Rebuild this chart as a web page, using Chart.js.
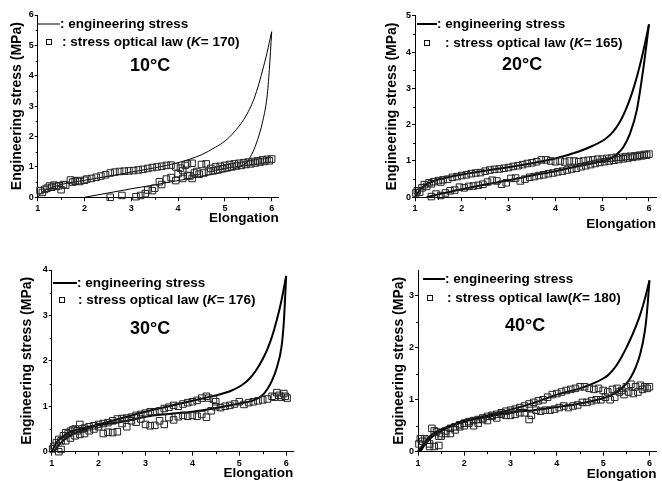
<!DOCTYPE html>
<html>
<head>
<meta charset="utf-8">
<script src="https://cdn.jsdelivr.net/npm/chart.js@4.4.1/dist/chart.umd.min.js"></script>
<style>
  body { margin: 0; background: #fff; width: 662px; height: 481px; position: relative; overflow: hidden; }
  canvas { position: absolute; }
</style>
</head>
<body>
<canvas id="p10"></canvas>
<canvas id="p20"></canvas>
<canvas id="p30"></canvas>
<canvas id="p40"></canvas>
<script>
// ---- data (elongation, engineering stress in MPa) ----
const temps = ['10°C', '20°C', '30°C', '40°C']
const kValues = ['170', '165', '176', '180']
const yMaxes = [6, 5, 4, 3.5]
const xTicks = [1, 2, 3, 4, 5, 6]

// 10°C
const load10 = [[1,0],[1.1,0.18],[1.3,0.32],[1.5,0.42],[2,0.56],[2.5,0.69],[3,0.83],[3.5,0.97],[4,1.14],[4.5,1.4],[4.8,1.65],[5,1.85],[5.2,2.15],[5.4,2.55],[5.5,2.82],[5.6,3.15],[5.7,3.6],[5.8,4.15],[5.9,4.75],[5.95,5.1],[6,5.45]]
const unload10 = [[2,0],[2.5,0.14],[3,0.28],[3.5,0.41],[4,0.55],[4.5,0.69],[5,0.85],[5.2,0.93],[5.4,1.07],[5.5,1.22],[5.6,1.5],[5.7,1.9],[5.8,2.45],[5.9,3.3],[5.95,4.2],[6,5.45]]
const optical10 = [[1.05,0.22],[1.1,0.16],[1.15,0.26],[1.2,0.3],[1.25,0.37],[1.3,0.33],[1.35,0.4],[1.4,0.36],[1.45,0.38],[1.5,0.25],[1.55,0.42],[1.6,0.4],[1.7,0.57],[1.75,0.5],[1.8,0.53],[1.85,0.55],[1.9,0.52],[2.0,0.56],[2.05,0.6],[2.15,0.62],[2.25,0.66],[2.35,0.7],[2.45,0.74],[2.55,0.8],[2.65,0.83],[2.75,0.85],[2.85,0.86],[2.95,0.87],[3.05,0.88],[3.15,0.9],[3.25,0.92],[3.35,0.95],[3.45,0.98],[3.55,1.0],[3.65,1.02],[3.75,1.05],[3.85,1.06],[3.95,1.0],[4.05,0.96],
  [4.1,0.88],[4.15,1.05],[4.2,1.1],[4.3,1.12],[4.35,0.8],[4.4,0.85],[4.5,1.08],[4.6,1.1],[4.7,0.95],[4.8,1.0],[4.9,1.02],[5.0,1.05],[5.1,1.08],[5.2,1.1],[5.3,1.12],[5.4,1.14],[5.5,1.16],[5.6,1.18],[5.7,1.2],[5.8,1.23],[5.9,1.25],[6.0,1.26],
  [5.95,1.2],[5.85,1.18],[5.75,1.16],[5.65,1.13],[5.55,1.1],[5.45,1.08],[5.35,1.05],[5.25,1.03],[5.15,1.0],[5.05,0.97],[4.95,0.94],[4.85,0.9],[4.75,0.87],[4.65,0.85],[4.55,0.8],[4.45,0.76],[4.3,0.62],[4.25,0.7],[4.2,0.72],[4.1,0.62],[4.0,0.78],[3.95,0.55],[3.85,0.65],[3.75,0.6],[3.65,0.42],[3.6,0.51],[3.5,0.3],[3.45,0.22],[3.35,0.24],[3.3,0.12],[3.2,0.06],[3.1,0.02],[2.8,0.06],[2.55,0.0]]

// 20°C
const load20 = [[1,0],[1.1,0.2],[1.2,0.32],[1.4,0.45],[1.6,0.52],[2,0.63],[2.5,0.73],[3,0.83],[3.5,0.94],[4,1.07],[4.5,1.26],[4.8,1.42],[5,1.55],[5.1,1.64],[5.2,1.76],[5.3,1.92],[5.4,2.13],[5.5,2.4],[5.6,2.73],[5.7,3.13],[5.8,3.6],[5.9,4.15],[6,4.76]]
const unload20 = [[1.25,0],[1.5,0.08],[2,0.22],[2.5,0.35],[3,0.47],[3.5,0.6],[4,0.72],[4.5,0.86],[5,1.0],[5.2,1.08],[5.31,1.18],[5.45,1.38],[5.59,1.74],[5.74,2.4],[5.88,3.55],[6,4.76]]
const optical20 = [[1.02,0.12],[1.05,0.18],[1.1,0.14],[1.15,0.26],[1.2,0.35],[1.25,0.3],[1.3,0.4],[1.35,0.37],[1.4,0.43],[1.5,0.46],[1.55,0.42],[1.6,0.48],[1.7,0.5],[1.8,0.55],[1.9,0.57],[2.0,0.6],[2.1,0.62],[2.2,0.65],[2.3,0.67],[2.4,0.68],[2.5,0.72],[2.6,0.75],[2.7,0.77],[2.8,0.78],[2.9,0.8],[3.0,0.82],[3.1,0.85],[3.2,0.87],[3.3,0.9],[3.4,0.93],[3.5,0.95],[3.6,0.98],[3.7,1.03],[3.8,1.03],[3.9,1.0],[4.0,0.98],[4.1,1.0],[4.2,0.97],[4.3,1.0],[4.4,1.0],[4.5,0.98],[4.6,1.0],[4.7,1.02],[4.8,1.03],[4.9,1.05],[5.0,1.05],[5.1,1.07],[5.2,1.08],[5.3,1.1],[5.4,1.1],[5.5,1.12],[5.6,1.13],[5.7,1.14],[5.8,1.16],[5.9,1.18],[6.0,1.19],
  [5.95,1.16],[5.85,1.14],[5.75,1.12],[5.65,1.1],[5.55,1.08],[5.45,1.06],[5.35,1.04],[5.25,1.02],[5.15,1.0],[5.05,0.98],[4.95,0.96],[4.85,0.93],[4.75,0.9],[4.65,0.87],[4.55,0.84],[4.45,0.8],[4.35,0.78],[4.25,0.75],[4.15,0.72],[4.05,0.7],[3.95,0.67],[3.85,0.65],[3.75,0.62],[3.65,0.6],[3.55,0.57],[3.45,0.55],[3.35,0.5],[3.25,0.45],[3.15,0.53],[3.05,0.52],[2.95,0.4],[2.85,0.36],[2.75,0.45],[2.65,0.47],[2.55,0.42],[2.45,0.36],[2.35,0.33],[2.25,0.31],[2.15,0.3],[2.05,0.26],[1.95,0.28],[1.85,0.2],[1.75,0.18],[1.65,0.12],[1.55,0.05],[1.45,0.09],[1.35,0.02]]

// 30°C
const load30 = [[1,0],[1.05,0.1],[1.1,0.2],[1.2,0.3],[1.3,0.38],[1.4,0.44],[1.6,0.5],[2,0.6],[2.5,0.74],[3,0.88],[3.5,1.0],[4,1.12],[4.5,1.24],[4.8,1.33],[5,1.43],[5.1,1.5],[5.2,1.59],[5.3,1.71],[5.4,1.86],[5.5,2.04],[5.6,2.26],[5.7,2.54],[5.8,2.9],[5.9,3.33],[6,3.87]]
const unload30 = [[1.05,0],[1.1,0.08],[1.2,0.2],[1.4,0.36],[1.6,0.45],[2,0.58],[2.5,0.66],[3,0.77],[3.5,0.83],[4,0.88],[4.5,0.96],[5,1.06],[5.3,1.13],[5.5,1.25],[5.6,1.38],[5.7,1.57],[5.8,1.85],[5.9,2.3],[5.95,2.85],[6,3.87]]
const optical30 = [[1.02,0.06],[1.05,0.12],[1.1,0.2],[1.15,0.27],[1.2,0.24],[1.25,0.35],[1.3,0.42],[1.35,0.4],[1.4,0.45],[1.45,0.48],[1.5,0.5],[1.55,0.46],[1.6,0.6],[1.65,0.5],[1.7,0.52],[1.8,0.55],[1.9,0.57],[2.0,0.6],[2.1,0.62],[2.2,0.64],[2.3,0.68],[2.4,0.72],[2.5,0.73],[2.6,0.74],[2.7,0.76],[2.8,0.8],[2.9,0.82],[3.0,0.85],[3.1,0.88],[3.2,0.88],[3.3,0.9],[3.4,0.95],[3.5,0.98],[3.6,1.02],[3.7,1.0],[3.8,1.05],[3.9,1.08],[4.0,1.1],[4.1,1.13],[4.2,1.18],[4.3,1.22],[4.35,1.18],[4.45,1.15],[4.5,1.1],
  [6.02,1.18],[5.98,1.22],[5.95,1.28],[5.9,1.2],[5.85,1.24],[5.8,1.3],[5.75,1.2],[5.7,1.22],[5.6,1.16],[5.5,1.14],[5.4,1.12],[5.3,1.1],[5.2,1.08],[5.1,1.04],[5.0,1.1],[4.9,1.05],[4.8,1.02],[4.7,1.0],[4.6,0.97],[4.5,0.99],[4.4,0.9],[4.3,0.76],[4.2,0.82],[4.1,0.78],[4.0,0.8],[3.9,0.78],[3.8,0.8],[3.7,0.77],[3.6,0.7],[3.5,0.75],[3.4,0.6],[3.3,0.68],[3.2,0.58],[3.1,0.57],[3.0,0.6],[2.9,0.72],[2.8,0.65],[2.7,0.68],[2.6,0.55],[2.5,0.62],[2.4,0.44],[2.3,0.42],[2.2,0.43],[2.1,0.4],[2.0,0.55],[1.9,0.5],[1.8,0.46],[1.7,0.4],[1.6,0.38],[1.5,0.35],[1.4,0.3],[1.3,0.24],[1.2,0.05],[1.15,0.0]]

// 40°C
const load40 = [[1,0],[1.1,0.12],[1.2,0.24],[1.3,0.33],[1.5,0.43],[1.7,0.5],[2,0.6],[2.5,0.7],[3,0.81],[3.5,0.94],[4,1.1],[4.5,1.22],[4.8,1.32],[5,1.41],[5.1,1.47],[5.2,1.56],[5.3,1.68],[5.4,1.83],[5.5,2.0],[5.6,2.19],[5.7,2.4],[5.8,2.64],[5.9,2.94],[6,3.3]]
const unload40 = [[1.05,0],[1.2,0.2],[1.5,0.4],[2,0.58],[2.5,0.67],[3,0.76],[3.5,0.8],[4,0.86],[4.5,0.93],[5,1.03],[5.2,1.1],[5.4,1.22],[5.5,1.31],[5.6,1.44],[5.7,1.62],[5.8,1.88],[5.9,2.32],[5.95,2.72],[6,3.3]]
const optical40 = [[1.02,0.15],[1.05,0.25],[1.1,0.2],[1.15,0.25],[1.2,0.22],[1.25,0.15],[1.3,0.45],[1.35,0.4],[1.4,0.38],[1.45,0.3],[1.5,0.35],[1.6,0.4],[1.7,0.45],[1.8,0.48],[1.9,0.52],[2.0,0.55],[2.1,0.58],[2.2,0.6],[2.3,0.62],[2.4,0.65],[2.5,0.68],[2.6,0.7],[2.7,0.72],[2.8,0.75],[2.9,0.78],[3.0,0.8],[3.1,0.82],[3.2,0.85],[3.3,0.88],[3.4,0.92],[3.5,0.95],[3.6,0.98],[3.7,1.0],[3.8,1.05],[3.9,1.1],[4.0,1.12],[4.1,1.15],[4.2,1.18],[4.3,1.2],[4.4,1.22],[4.5,1.25],[4.6,1.25],[4.7,1.22],[4.8,1.2],[4.9,1.22],[5.0,1.18],[5.1,1.15],[5.2,1.2],[5.3,1.22],[5.4,1.18],[5.5,1.25],[5.6,1.3],[5.7,1.25],[5.8,1.28],[5.9,1.25],[6.0,1.25],
  [5.95,1.22],[5.85,1.2],[5.75,1.15],[5.65,1.12],[5.55,1.15],[5.45,1.1],[5.35,1.15],[5.25,1.05],[5.15,1.0],[5.05,1.05],[4.95,1.0],[4.85,1.0],[4.75,0.98],[4.65,0.95],[4.55,0.95],[4.45,0.9],[4.35,0.88],[4.25,0.85],[4.15,0.88],[4.05,0.85],[3.95,0.82],[3.85,0.8],[3.75,0.8],[3.65,0.78],[3.55,0.8],[3.45,0.7],[3.4,0.62],[3.3,0.75],[3.2,0.75],[3.1,0.72],[3.0,0.7],[2.9,0.7],[2.8,0.72],[2.7,0.65],[2.6,0.68],[2.5,0.6],[2.4,0.62],[2.3,0.55],[2.2,0.5],[2.1,0.55],[2.0,0.5],[1.9,0.48],[1.8,0.42],[1.7,0.35],[1.6,0.35],[1.5,0.3],[1.45,0.12],[1.35,0.1],[1.25,0.1]]

const loads = [load10, load20, load30, load40]
const unloads = [unload10, unload20, unload30, unload40]
const opticals = [optical10, optical20, optical30, optical40]

// ---- layout (pixels) ----
const FONT = "'Liberation Sans', Arial, Helvetica, sans-serif"
const layouts = [
  { id: 'p10', box: [0, 5, 300, 226],   area: [37.7, 15, 278.7, 197.3],  yTitleX: 17.5, xTitleY: 218,   lw: 1,
    leg: { line: [0.3, 22.3, 9], sq: [11.3, 27], t2: 24.3, temp: [92.3, 51], paren: ' (' } },
  { id: 'p20', box: [370, 5, 292, 228], area: [415, 15.7, 656, 197.3],   yTitleX: 392.5, xTitleY: 224.5, lw: 2,
    leg: { line: [2, 22, 8.3], sq: [12, 27.3], t2: 30, temp: [87, 49.3], paren: ' (' } },
  { id: 'p30', box: [0, 260, 310, 226], area: [51.7, 270, 293.2, 451.7], yTitleX: 27.5, xTitleY: 473,   lw: 2,
    leg: { line: [1.3, 25.3, 13], sq: [10.3, 30], t2: 26.3, temp: [78.3, 59], paren: ' (' } },
  { id: 'p40', box: [370, 260, 292, 226], area: [418, 270, 660, 451.7],  yTitleX: 399, xTitleY: 474.5, lw: 2,
    leg: { line: [5, 27, 9], sq: [12, 28], t2: 29, temp: [87, 56], paren: '(' } },
]

const toPts = arr => arr.map(([x, y]) => ({ x, y }))

// small minor ticks at half units, placed through the scales
const minorTicks = {
  id: 'minorTicks',
  afterDraw(chart) {
    const { ctx, scales: { x, y } } = chart
    ctx.save()
    ctx.strokeStyle = '#000'
    ctx.lineWidth = 1
    ctx.beginPath()
    for (let v = 1.5; v < x.max; v += 1) {
      const px = Math.round(x.getPixelForValue(v)) + 0.5
      ctx.moveTo(px, x.top); ctx.lineTo(px, x.top + 2.5)
    }
    for (let v = 0.5; v < y.max; v += 1) {
      const py = Math.round(y.getPixelForValue(v)) + 0.5
      ctx.moveTo(y.right, py); ctx.lineTo(y.right - 2, py)
    }
    ctx.stroke()
    ctx.restore()
  }
}

// legend + temperature note inside the plot
const panelNote = {
  id: 'panelNote',
  afterDraw(chart, args, o) {
    const { ctx, chartArea: a } = chart
    const L = o.leg
    ctx.save()
    ctx.fillStyle = '#000'
    ctx.strokeStyle = '#000'
    ctx.textBaseline = 'middle'
    ctx.textAlign = 'left'
    const bold = 'bold 13.5px ' + FONT
    // line sample
    ctx.lineWidth = o.lw
    ctx.beginPath()
    ctx.moveTo(a.left + L.line[0], a.top + L.line[2])
    ctx.lineTo(a.left + L.line[1], a.top + L.line[2])
    ctx.stroke()
    ctx.font = bold
    ctx.fillText(': engineering stress', a.left + L.line[1], a.top + L.line[2])
    // square sample
    ctx.lineWidth = 1
    ctx.strokeStyle = '#111'
    ctx.strokeRect(Math.round(a.left + L.sq[0]) - 2.5, Math.round(a.top + L.sq[1]) - 2.5, 5, 5)
    let tx = a.left + L.t2
    const ty = a.top + L.sq[1]
    const parts = [
      [': stress optical law' + L.paren, bold],
      ['K', 'italic bold 13.5px ' + FONT],
      ['= ' + o.k + ')', bold],
    ]
    parts.forEach(([txt, f]) => {
      ctx.font = f
      ctx.fillText(txt, tx, ty)
      tx += ctx.measureText(txt).width
    })
    // temperature
    ctx.font = 'bold 18px ' + FONT
    ctx.fillText(o.temp, a.left + L.temp[0], a.top + L.temp[1])
    ctx.restore()
  }
}

layouts.forEach((lay, i) => {
  const canvas = document.getElementById(lay.id)
  const [cl, ct, cw, ch] = lay.box
  const [al, at, ar, ab] = lay.area
  canvas.width = cw
  canvas.height = ch
  canvas.style.left = cl + 'px'
  canvas.style.top = ct + 'px'

  const yWidth = al - cl
  const xHeight = ct + ch - ab
  const tickFont = { family: FONT, size: 9, weight: 'bold' }

  new Chart(canvas, {
    type: 'scatter',
    data: {
      datasets: [
        {
          data: toPts(opticals[i]),
          pointStyle: 'rect',
          pointRadius: 4.6,
          borderWidth: 1,
          borderColor: '#222',
          backgroundColor: 'rgba(0,0,0,0)',
          showLine: false,
        },
        {
          data: toPts(loads[i]),
          showLine: true,
          borderColor: '#000',
          borderWidth: lay.lw,
          pointRadius: 0,
          cubicInterpolationMode: 'monotone',
        },
        {
          data: toPts(unloads[i]),
          showLine: true,
          borderColor: '#000',
          borderWidth: lay.lw,
          pointRadius: 0,
          cubicInterpolationMode: 'monotone',
        },
      ],
    },
    options: {
      responsive: false,
      devicePixelRatio: 1,
      animation: false,
      events: [],
      clip: false,
      layout: { padding: { left: 0, top: at - ct, right: cl + cw - ar, bottom: 0 } },
      plugins: {
        legend: { display: false },
        tooltip: { enabled: false },
        panelNote: { leg: lay.leg, lw: lay.lw, k: kValues[i], temp: temps[i] },
      },
      scales: {
        x: {
          type: 'linear',
          min: 1,
          max: 6.15,
          afterBuildTicks: s => { s.ticks = xTicks.map(v => ({ value: v })) },
          afterFit: s => { s.height = xHeight },
          ticks: { stepSize: 1, color: '#000', font: tickFont, padding: 2, maxRotation: 0, autoSkip: false },
          grid: { drawOnChartArea: false, drawTicks: true, tickLength: 4, tickColor: '#000', tickWidth: 1 },
          border: { color: '#000', width: 1 },
          title: {
            display: true, text: 'Elongation', align: 'end', color: '#000',
            font: { family: FONT, size: 13.5, weight: 'bold' },
            padding: { top: 0, bottom: (ct + ch - lay.xTitleY) - 8.1 },
          },
        },
        y: {
          type: 'linear',
          min: 0,
          max: yMaxes[i],
          afterBuildTicks: s => { s.ticks = s.ticks.filter(t => Number.isInteger(t.value)) },
          afterFit: s => { s.width = yWidth },
          ticks: { stepSize: 1, color: '#000', font: tickFont, padding: 1 },
          grid: { drawOnChartArea: false, drawTicks: true, tickLength: 3, tickColor: '#000', tickWidth: 1 },
          border: { color: '#000', width: 1 },
          title: {
            display: true, text: 'Engineering stress (MPa)', color: '#000',
            font: { family: FONT, size: 14, weight: 'bold' },
            padding: { top: (lay.yTitleX - cl) - 8.4, bottom: 0 },
          },
        },
      },
    },
    plugins: [minorTicks, panelNote],
  })
})
</script>
</body>
</html>
